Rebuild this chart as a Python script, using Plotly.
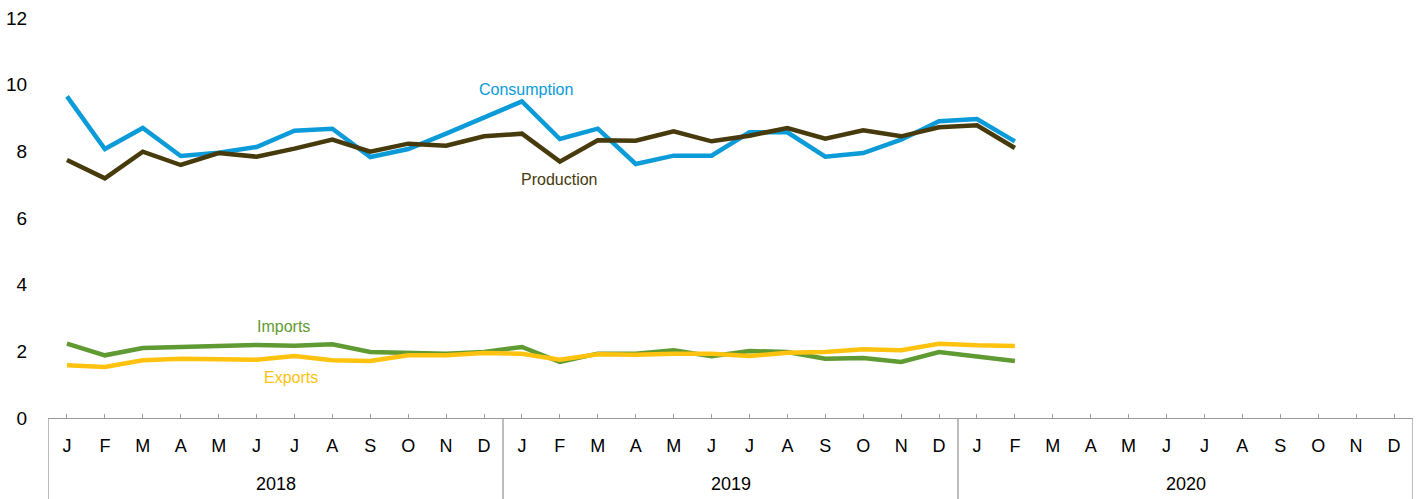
import plotly.graph_objects as go

years = ["2018", "2019", "2020"]
month_letters = ["J", "F", "M", "A", "M", "J", "J", "A", "S", "O", "N", "D"]

consumption = [9.65, 8.07, 8.70, 7.86, 7.96, 8.13, 8.62, 8.68, 7.83, 8.07, 8.53, 9.03,
               9.50, 8.37, 8.68, 7.62, 7.87, 7.87, 8.57, 8.57, 7.84, 7.95, 8.35, 8.90,
               8.97, 8.30]
production = [7.74, 7.19, 7.99, 7.59, 7.95, 7.84, 8.08, 8.35, 7.99, 8.23, 8.17, 8.45,
              8.53, 7.69, 8.33, 8.32, 8.60, 8.30, 8.47, 8.70, 8.38, 8.63, 8.45, 8.72,
              8.78, 8.10]
imports = [2.23, 1.88, 2.10, 2.13, 2.15, 2.19, 2.17, 2.21, 1.98, 1.97, 1.93, 1.98,
           2.13, 1.68, 1.93, 1.93, 2.03, 1.85, 2.01, 1.98, 1.78, 1.80, 1.68, 1.98,
           1.85, 1.71]
exports = [1.58, 1.53, 1.73, 1.78, 1.76, 1.75, 1.86, 1.73, 1.71, 1.88, 1.88, 1.95,
           1.93, 1.75, 1.91, 1.90, 1.93, 1.93, 1.86, 1.96, 1.98, 2.06, 2.03, 2.23,
           2.18, 2.16]

series_names = ["Consumption", "Production", "Imports", "Exports"]
series_values = [consumption, production, imports, exports]
series_colors = ["#0a9bd8", "#473a0c", "#5f9a32", "#ffc20e"]
# label positions (month index, value)
label_pos = [(12.1, 9.85), (13.0, 7.15), (5.7, 2.75), (5.9, 1.22)]

n_months = len(years) * len(month_letters)
x_all = list(range(n_months))
tick_text = month_letters * len(years)

fig = go.Figure()
for name, vals, col in zip(series_names, series_values, series_colors):
    fig.add_trace(go.Scatter(x=x_all[:len(vals)], y=vals, mode="lines", name=name,
                             line=dict(color=col, width=4.5), showlegend=False))

for name, col, (lx, ly) in zip(series_names, series_colors, label_pos):
    fig.add_annotation(x=lx, y=ly, text=name, showarrow=False,
                       font=dict(color=col, size=16, family="Liberation Sans, Arial"))

# year group labels and dividers
nm = len(month_letters)
for i, yr in enumerate(years):
    fig.add_annotation(x=i * nm + (nm - 1) / 2, y=-0.165, yref="paper", text=yr,
                       showarrow=False, yanchor="middle",
                       font=dict(size=18, color="#000", family="Liberation Sans, Arial"))
for i in range(len(years) + 1):
    fig.add_shape(type="line", x0=i * nm - 0.5, x1=i * nm - 0.5, y0=0, y1=-0.21,
                  xref="x", yref="paper", line=dict(color="#9a9a9a", width=1.3))

fig.update_layout(
    width=1423, height=499,
    margin=dict(l=48, r=10, t=18, b=81),
    paper_bgcolor="white", plot_bgcolor="white",
    font=dict(family="Liberation Sans, Arial", size=18, color="#000"),
    xaxis=dict(range=[-0.5, n_months - 0.5], tickmode="array", tickvals=x_all,
               ticktext=tick_text, showgrid=False, zeroline=False, automargin=False,
               showline=True, linecolor="#9a9a9a", linewidth=1.3,
               ticks="inside", ticklen=4, tickcolor="#9a9a9a",
               ticklabelstandoff=11, tickfont=dict(size=18)),
    yaxis=dict(range=[0, 12], tickvals=[0, 2, 4, 6, 8, 10, 12], showgrid=False,
               zeroline=False, showline=False, ticks="outside", ticklen=16,
               automargin=False,
               tickcolor="rgba(0,0,0,0)", tickfont=dict(size=19)),
)

# remove the default page margin so the figure sits at the window's corner
fig.write_html("out.html", config={"displayModeBar": False},
               post_script="document.body.style.margin='0';")
